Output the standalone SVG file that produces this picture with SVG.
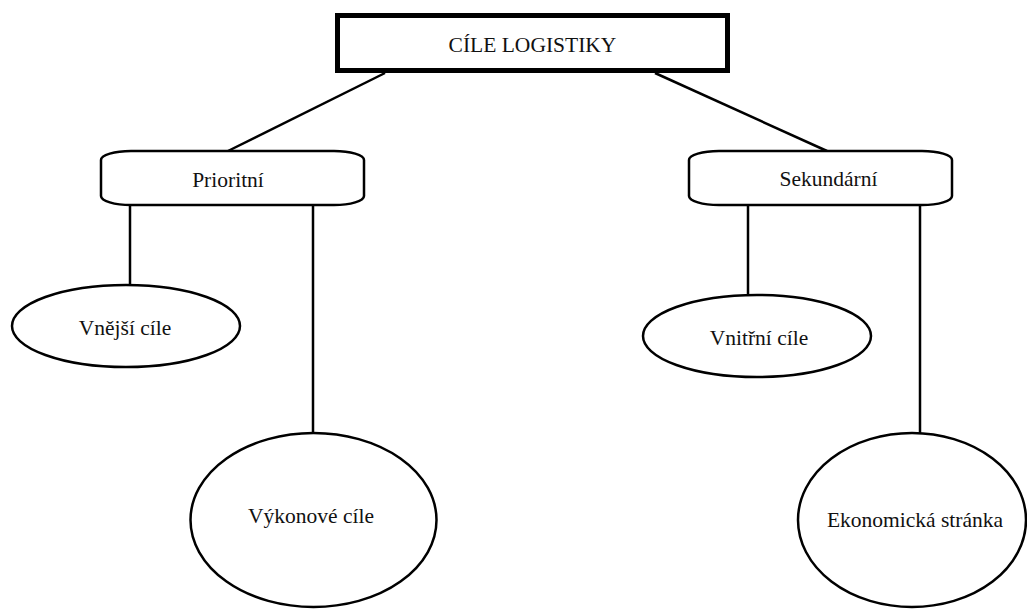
<svg xmlns="http://www.w3.org/2000/svg" width="1027" height="609" viewBox="0 0 1027 609">
<style>
.t{font-family:"Liberation Serif","Times New Roman",serif;font-size:21.5px;fill:#111;text-anchor:middle}
.n{fill:#fff;stroke:#000;stroke-width:2.5}
.c line{stroke:#000;stroke-width:2.5}
</style>
<rect width="1027" height="609" fill="#fff"/>
<g class="c" id="connectors">
<line x1="385" y1="73" x2="228" y2="151"/>
<line x1="655" y1="73" x2="827" y2="151"/>
<line x1="130" y1="205" x2="130" y2="285"/>
<line x1="313" y1="205" x2="313" y2="433"/>
<line x1="748" y1="205" x2="748" y2="295"/>
<line x1="920" y1="205" x2="920" y2="433"/>
</g>
<g id="root">
<rect x="337.5" y="15.5" width="390" height="55" fill="#fff" stroke="#000" stroke-width="5"/>
<text class="t" x="532.5" y="52">CÍLE LOGISTIKY</text>
</g>
<g id="prioritni">
<rect class="n" x="101" y="151" width="263" height="54" rx="30" ry="9"/>
<text class="t" x="228" y="186.5">Prioritní</text>
</g>
<g id="sekundarni">
<rect class="n" x="689" y="151" width="263" height="54" rx="30" ry="9"/>
<text class="t" x="828.5" y="185.5">Sekundární</text>
</g>
<g id="vnejsi">
<ellipse class="n" cx="126" cy="326" rx="114" ry="41"/>
<text class="t" x="125" y="335">Vnější cíle</text>
</g>
<g id="vnitrni">
<ellipse class="n" cx="757" cy="336" rx="114" ry="41"/>
<text class="t" x="759" y="345">Vnitřní cíle</text>
</g>
<g id="vykonove">
<ellipse class="n" cx="313.5" cy="520" rx="123" ry="87"/>
<text class="t" x="311" y="523">Výkonové cíle</text>
</g>
<g id="ekonomicka">
<ellipse class="n" cx="912" cy="520" rx="114" ry="87"/>
<text class="t" x="915" y="527">Ekonomická stránka</text>
</g>
</svg>
